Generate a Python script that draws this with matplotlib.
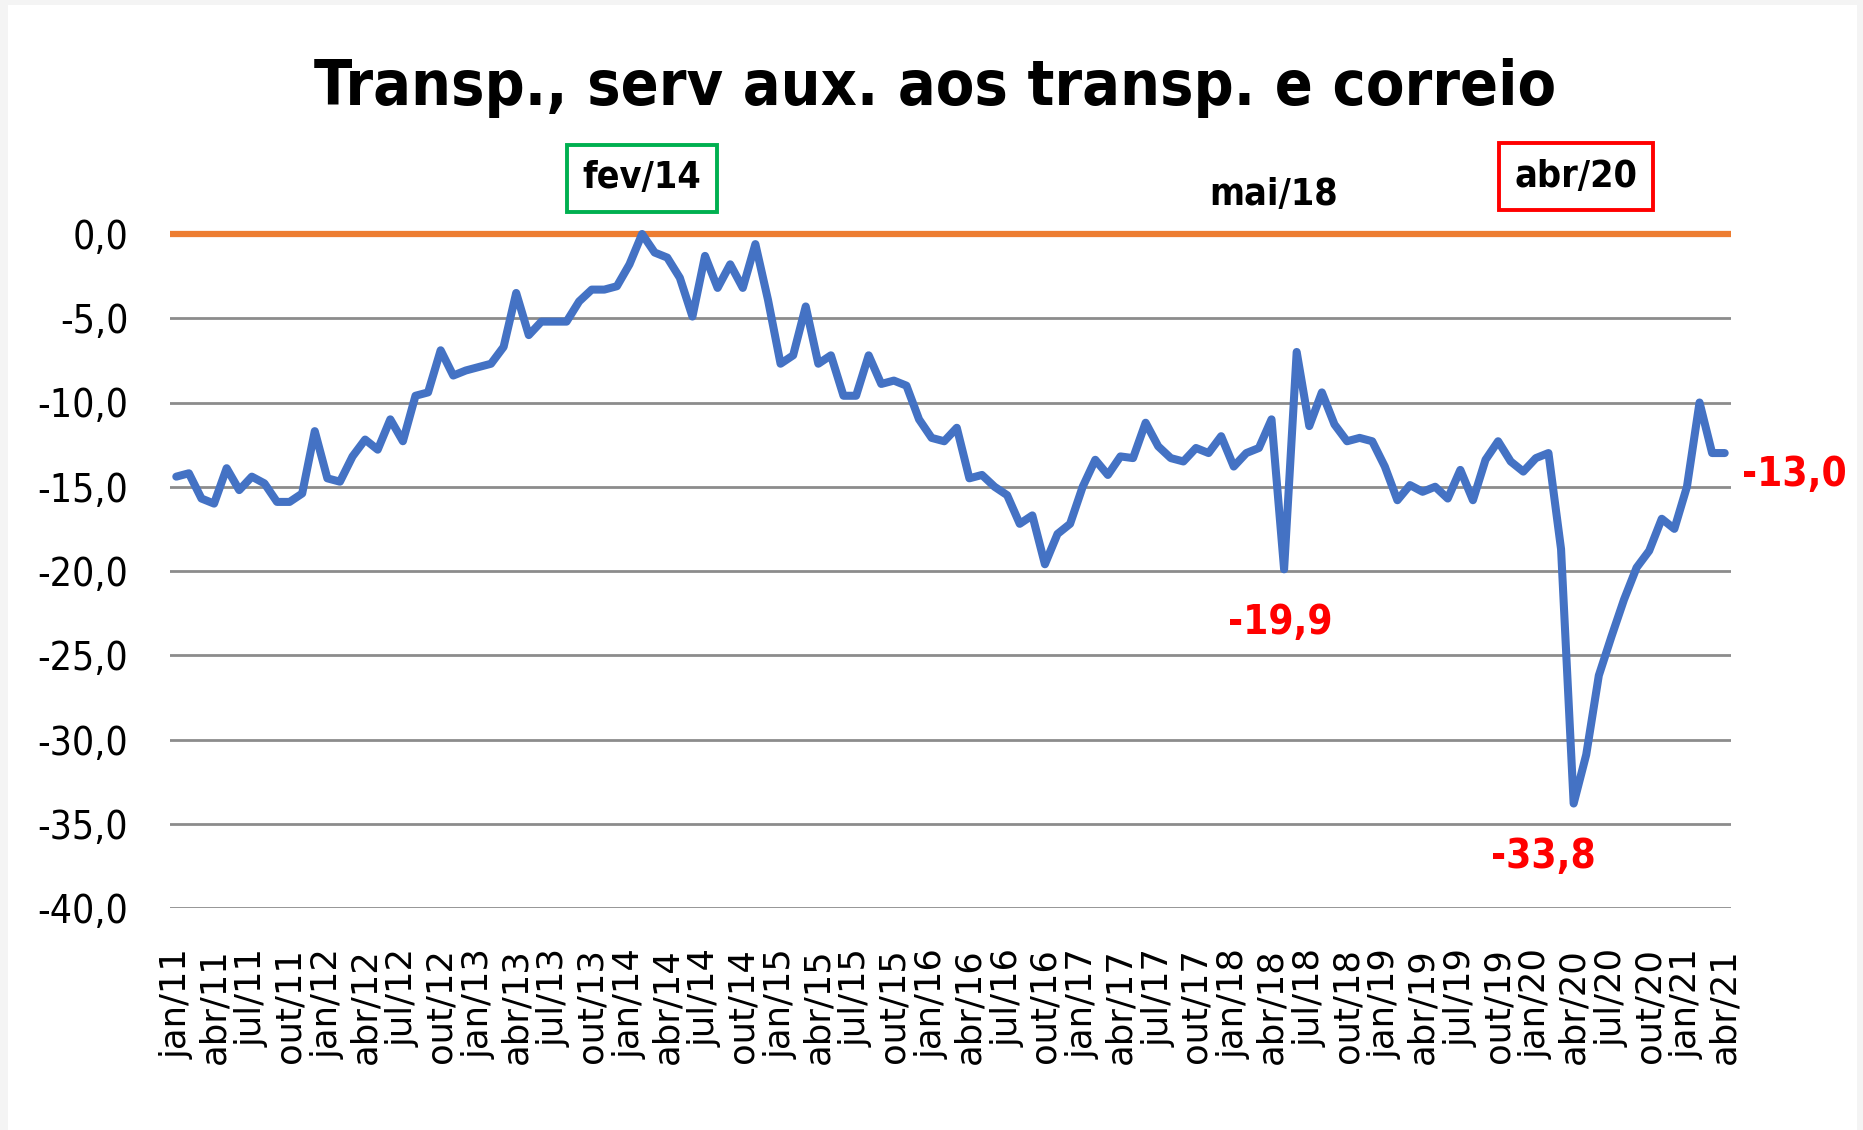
import matplotlib
matplotlib.use("Agg")
import matplotlib.pyplot as plt
import numpy as np
from matplotlib import font_manager
from matplotlib.patches import Rectangle

BLUE = "#4472C4"
ORANGE = "#ED7D31"
GRID = "#8C8C8C"
RED = "#FF0000"
GREEN = "#00B050"

MONTHS = ["jan", "fev", "mar", "abr", "mai", "jun", "jul", "ago", "set", "out", "nov", "dez"]
YEARS = list(range(2011, 2022))

# variação (%) em relação ao pico - jan/11 a abr/21
values = [
    -14.4, -14.2, -15.7, -16.0, -13.9, -15.2, -14.4, -14.8, -15.9, -15.9, -15.4, -11.7,
    -14.5, -14.7, -13.2, -12.2, -12.8, -11.0, -12.3, -9.6, -9.4, -6.9, -8.4, -8.1,
    -7.9, -7.7, -6.7, -3.5, -6.0, -5.2, -5.2, -5.2, -4.0, -3.3, -3.3, -3.1,
    -1.8, 0.0, -1.1, -1.4, -2.6, -4.9, -1.3, -3.2, -1.8, -3.2, -0.6, -3.9,
    -7.7, -7.2, -4.3, -7.7, -7.2, -9.6, -9.6, -7.2, -8.9, -8.7, -9.0, -11.0,
    -12.1, -12.3, -11.5, -14.5, -14.3, -15.0, -15.5, -17.2, -16.7, -19.6, -17.8, -17.2,
    -15.0, -13.4, -14.3, -13.2, -13.3, -11.2, -12.6, -13.3, -13.5, -12.7, -13.0, -12.0,
    -13.8, -13.0, -12.7, -11.0, -19.9, -7.0, -11.4, -9.4, -11.3, -12.3, -12.1, -12.3,
    -13.8, -15.8, -14.9, -15.3, -15.0, -15.7, -14.0, -15.8, -13.4, -12.3, -13.5, -14.1,
    -13.3, -13.0, -18.7, -33.8, -30.9, -26.2, -23.9, -21.7, -19.8, -18.8, -16.9, -17.5,
    -15.0, -10.0, -13.0, -13.0,
]

labels = [f"{m}/{str(y)[2:]}" for y in YEARS for m in MONTHS][: len(values)]
yticks = [0, -5, -10, -15, -20, -25, -30, -35, -40]

peak_label = "fev/14"
dip_labels = ["mai/18", "abr/20"]
last_label = "abr/21"


def narrow_font(bold: bool):
    # look for a condensed sans face; fall back to DejaVu Sans
    keys = ["LiberationSansNarrow", "DejaVuSansCondensed", "NotoSans-Condensed",
            "OpenSans_Condensed", "OpenSans-Condensed", "Roboto-Condensed", "RobotoCondensed"]
    files = [f.fname for f in font_manager.fontManager.ttflist]
    for key in keys:
        for fn in files:
            base = fn.split("/")[-1].replace(" ", "")
            if key.lower() not in base.lower():
                continue
            rest = base.lower().split(key.lower())[-1]
            is_bold = "bold" in rest and "semibold" not in rest and "extrabold" not in rest
            italic = "italic" in rest or "oblique" in rest
            if italic or is_bold != bold:
                continue
            if not bold and any(w in rest for w in ["light", "thin", "medium", "semi", "black", "extra"]):
                continue
            return font_manager.FontProperties(fname=fn)
    return font_manager.FontProperties(family="DejaVu Sans", weight="bold" if bold else "normal")


def fmt(v):
    return f"{v:.1f}".replace(".", ",")


def main() -> None:
    reg = narrow_font(False)
    bold = narrow_font(True)

    fig = plt.figure(figsize=(18.63, 11.30), dpi=100, facecolor="#F4F4F4")
    fig.patches.append(Rectangle((8 / 1863, 0), 1 - 14 / 1863, 1 - 5 / 1130,
                                 transform=fig.transFigure, facecolor="white",
                                 edgecolor="none", zorder=-5))
    ax = fig.add_axes([170 / 1863, 1 - 908 / 1130, (1731 - 170) / 1863, (908 - 234) / 1130])
    ax.set_facecolor("none")
    ax.set_zorder(2)

    x = np.arange(len(values))
    for t in yticks[1:]:
        ax.axhline(t, color=GRID, linewidth=2.0, zorder=1)
    ax.axhline(0, color=ORANGE, linewidth=4.5, zorder=2, clip_on=False, solid_capstyle="butt")
    ax.plot(x, values, color=BLUE, linewidth=5.8, solid_joinstyle="round",
            solid_capstyle="round", zorder=3, clip_on=False)

    ax.set_xlim(-0.5, len(values) - 0.5)
    ax.set_ylim(-40, 0)
    ax.set_yticks(yticks)
    ax.set_yticklabels([fmt(t) for t in yticks], fontproperties=reg, fontsize=28)
    ax.set_xticks(x[::3])
    ax.set_xticklabels(labels[::3], rotation=90, family="DejaVu Sans", fontsize=25.5)
    ax.tick_params(axis="y", length=0, pad=30)
    ax.tick_params(axis="x", length=0, pad=29)
    for s in ax.spines.values():
        s.set_visible(False)

    fig.text(935 / 1863, 1 - 88 / 1130, "Transp., serv aux. aos transp. e correio",
             ha="center", va="center", fontproperties=bold, fontsize=45)

    i_peak = labels.index(peak_label)
    i_may, i_apr = (labels.index(l) for l in dip_labels)
    i_last = labels.index(last_label)

    ax.text(i_peak, 3.3, peak_label, ha="center", va="center", fontproperties=bold,
            fontsize=27, clip_on=False,
            bbox=dict(boxstyle="square,pad=0.42", facecolor="white", edgecolor=GREEN, linewidth=2.8))
    ax.text(i_may - 0.8, 2.3, dip_labels[0], ha="center", va="center", fontproperties=bold,
            fontsize=27, clip_on=False)
    ax.text(i_apr + 0.2, 3.4, dip_labels[1], ha="center", va="center", fontproperties=bold,
            fontsize=27, clip_on=False,
            bbox=dict(boxstyle="square,pad=0.42", facecolor="white", edgecolor=RED, linewidth=2.8))

    red = dict(ha="center", va="center", fontproperties=bold, fontsize=29, color=RED, clip_on=False)
    ax.text(i_may - 0.3, values[i_may] - 3.2, fmt(values[i_may]), **red)
    ax.text(i_apr - 2.4, values[i_apr] - 3.2, fmt(values[i_apr]), **red)
    ax.text(i_last + 5.5, values[i_last] - 1.3, fmt(values[i_last]), **red)

    fig.savefig("out.png", dpi=100, facecolor=fig.get_facecolor())


if __name__ == "__main__":
    main()
